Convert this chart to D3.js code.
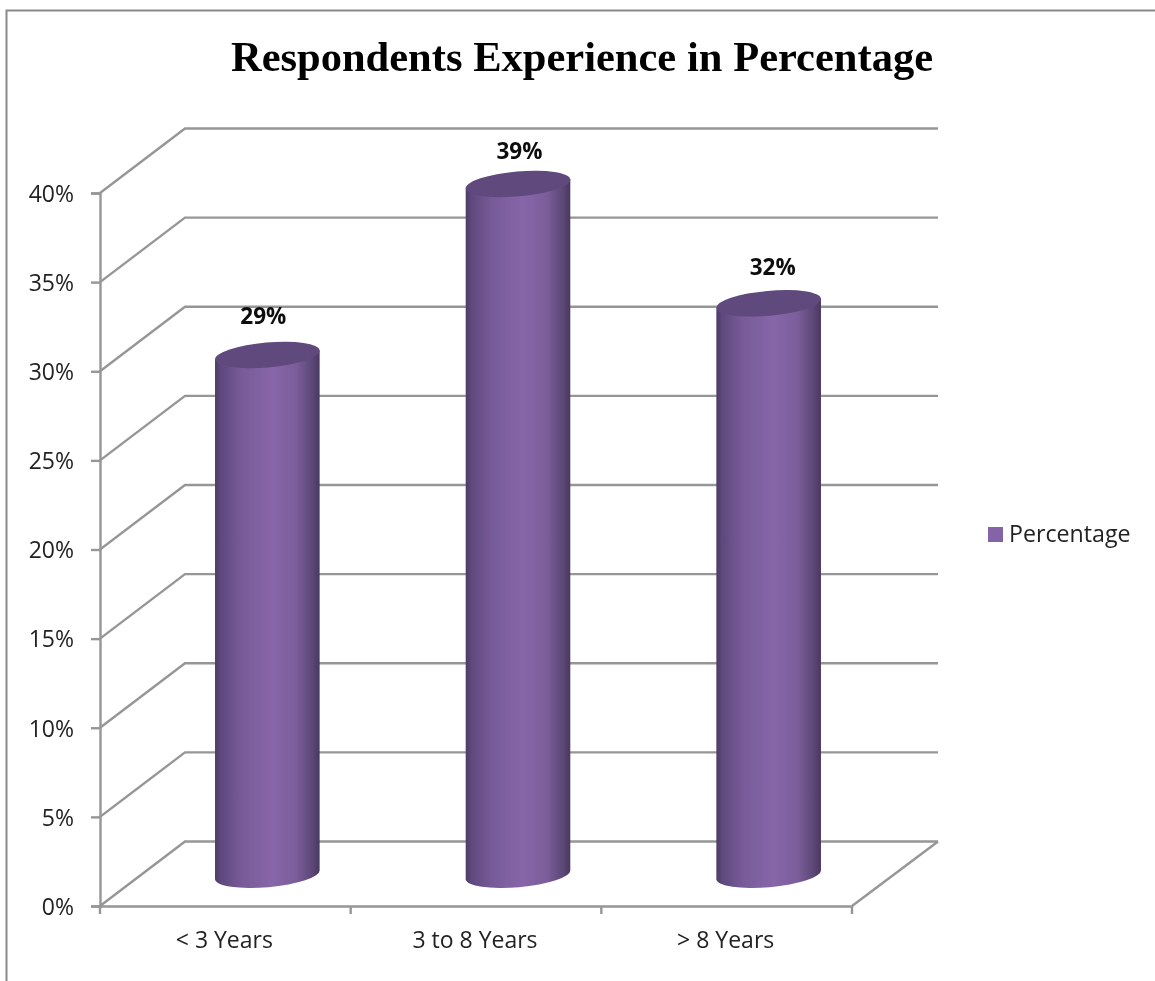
<!DOCTYPE html>
<html><head><meta charset="utf-8">
<script src="https://cdn.jsdelivr.net/npm/d3@7"></script>
<style>html,body{margin:0;background:#fff}svg{display:block}</style></head>
<body><svg id="c" width="1155" height="981"></svg>
<script>
const categories = ["< 3 Years", "3 to 8 Years", "> 8 Years"];
const values = [29.1, 38.7, 32];
const valueLabels = ["29%", "39%", "32%"];
const yTicks = [0, 5, 10, 15, 20, 25, 30, 35, 40];
const titleText = "Respondents Experience in Percentage";
const seriesName = "Percentage";

const grey = "#969696", sans = "'Open Sans','Noto Sans',sans-serif";
const svg = d3.select("#c");
const x = d3.scaleBand().domain(categories).range([100, 852]);
const y = d3.scaleLinear().domain([0, 40]).range([906, 193]);
const depthX = 85, depthY = -64.5;

const defs = svg.append("defs");
const g = defs.append("linearGradient").attr("id", "cyl");
[[0, "#4d3b66"], [0.06, "#5f4a7e"], [0.25, "#775a98"], [0.55, "#8766a9"], [0.78, "#7a5d99"], [0.93, "#5c4776"], [1, "#493860"]]
  .forEach(([o, c]) => g.append("stop").attr("offset", o).attr("stop-color", c));
defs.append("filter").attr("id", "soft").append("feGaussianBlur").attr("stdDeviation", 0.55);

// chart frame
svg.append("path").attr("d", "M6.5,981V10.5H1155").attr("fill", "none").attr("stroke", "#8a8a8a").attr("stroke-width", 2);

const root = svg.append("g").attr("filter", "url(#soft)");

// walls and gridlines
const line = (pts) => root.append("path").attr("d", d3.line()(pts)).attr("fill", "none").attr("stroke", grey).attr("stroke-width", 2.4);
yTicks.forEach(t => line([[100, y(t)], [100 + depthX, y(t) + depthY], [852 + depthX + 1, y(t) + depthY]]));
line([[852, y(0)], [852 + depthX + 1, y(0) + depthY]]);

// axes
const axL = root.append("g").attr("transform", "translate(100,0)")
  .call(d3.axisLeft(y).tickValues(yTicks).tickFormat(d => d + "%").tickSize(9).tickPadding(17));
const axB = root.append("g").attr("transform", "translate(0,906)")
  .call(d3.axisBottom(x).tickSize(0).tickPadding(26));
axB.selectAll(".tick").append("line")
  .attr("x1", x.step() / 2).attr("x2", x.step() / 2).attr("y1", 0).attr("y2", 8);
axB.append("line").attr("x1", 100).attr("x2", 100).attr("y1", 0).attr("y2", 8);
[axL, axB].forEach(a => {
  a.selectAll("path.domain").attr("stroke", grey).attr("stroke-width", 2.4);
  a.selectAll("line").attr("stroke", grey).attr("stroke-width", 2.4);
  a.selectAll("text").attr("fill", "#222").attr("font-family", sans).attr("font-size", 23);
});
axL.selectAll("text").attr("dy", "0.36em");
axB.selectAll("text").attr("dx", -1);

// cylinders
const rx = 52.5, ry = 12.5, tilt = -5;
const cx = d => x(d) + x.bandwidth() / 2 + depthX / 2 - 0.5;
const midY = v => y(v) + depthY / 2;
const labelLift = [39, 33, 36], labelNudge = [-4, 1.5, 4];
const data = categories.map((c, i) => ({c, v: values[i], l: valueLabels[i], i}));
const bars = root.selectAll("g.bar").data(data).join("g").attr("class", "bar");
const dx = rx * Math.cos(tilt * Math.PI / 180), dy = rx * Math.sin(tilt * Math.PI / 180);
bars.append("path").attr("fill", "url(#cyl)").attr("d", d => {
  const c = cx(d.c), t = midY(d.v), b = midY(0) + 1;
  return `M${c - dx},${t - dy}L${c + dx},${t + dy}L${c + dx},${b + dy}` +
    `A${rx},${ry} ${tilt} 0 1 ${c - dx},${b - dy}Z`;
});
bars.append("ellipse").attr("fill", "#5f4a7d").attr("rx", rx).attr("ry", ry)
  .attr("transform", d => `translate(${cx(d.c)},${midY(d.v)}) rotate(${tilt})`);
bars.append("text").text(d => d.l)
  .attr("x", d => cx(d.c) + labelNudge[d.i]).attr("y", d => midY(d.v) - labelLift[d.i])
  .attr("dy", "0.36em").attr("text-anchor", "middle").attr("font-family", sans).attr("font-weight", 700)
  .attr("font-size", 22.5).attr("fill", "#111");

// title
const title = root.append("text").text(titleText).attr("x", 582).attr("y", 71).attr("text-anchor", "middle")
  .attr("font-family", "'Liberation Serif',serif").attr("font-weight", 700).attr("font-size", 42.5)
  .attr("fill", "#000");
const natural = title.node().getComputedTextLength();
title.attr("word-spacing", (702 - natural) / (titleText.split(" ").length - 1));

// legend
root.append("rect").attr("x", 988).attr("y", 527).attr("width", 15).attr("height", 15).attr("fill", "#8464a6");
root.append("text").text(seriesName).attr("x", 1009).attr("y", 542)
  .attr("font-family", sans).attr("font-size", 23.2).attr("fill", "#222");
</script></body></html>
